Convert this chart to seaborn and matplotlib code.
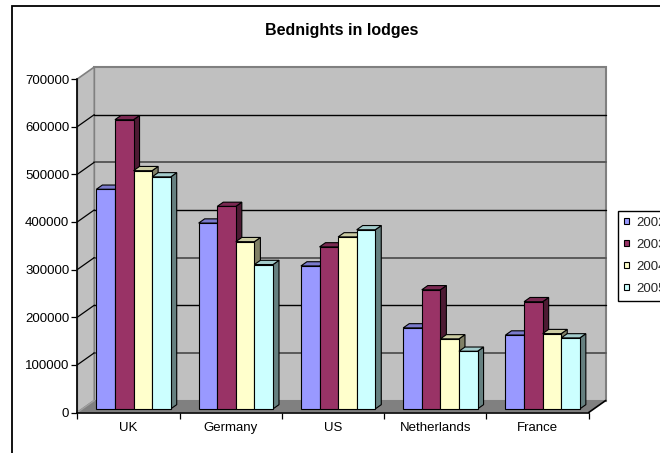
import numpy as np
import pandas as pd
import matplotlib
matplotlib.use("Agg")
import matplotlib.pyplot as plt
import seaborn as sns
from matplotlib.patches import Polygon, Rectangle, Patch
from matplotlib.transforms import Affine2D, IdentityTransform
from matplotlib.lines import Line2D
import matplotlib.colors as mcolors

# ---------------- data ----------------
categories = ["UK", "Germany", "US", "Netherlands", "France"]
years = ["2002", "2003", "2004", "2005"]
v2002 = [461000, 390000, 300000, 170000, 155000]
v2003 = [607000, 425000, 340000, 250000, 225000]
v2004 = [500000, 351000, 361000, 147000, 158000]
v2005 = [487000, 303000, 376000, 121000, 149000]
yticks = [0, 100000, 200000, 300000, 400000, 500000, 600000, 700000]
title = "Bednights in lodges"
colors = ["#9999FF", "#993366", "#FFFFCC", "#CCFFFF"]

series = {"2002": v2002, "2003": v2003, "2004": v2004, "2005": v2005}
df = pd.DataFrame([(c, y, series[y][i]) for y in years for i, c in enumerate(categories)],
                  columns=["country", "year", "value"])

# ---------------- style ----------------
sns.set_style("white")
plt.rcParams["font.family"] = ["Liberation Sans", "DejaVu Sans"]

W, H = 660, 453
fig = plt.figure(figsize=(W / 100, H / 100), dpi=100)
fig.patch.set_facecolor("white")

# front plane of the 3D box
x0, x1 = 77.3, 588.7
yb, yt = 412.5, 79.0
ax = fig.add_axes([x0 / W, (H - yb) / H, (x1 - x0) / W, (yb - yt) / H])
ax.patch.set_visible(False)

sns.barplot(data=df, x="country", y="value", hue="year", order=categories,
            hue_order=years, palette=colors, saturation=1, width=0.727,
            edgecolor="black", linewidth=0.8, legend=False, ax=ax, errorbar=None)
ax.set_xlim(-0.5, len(categories) - 0.5)
ax.set_ylim(yticks[0], yticks[-1])

DX, DY = 17.0, 12.0      # full depth of the box in pixels
D0, DD = 0.30, 0.353     # bar depth start and thickness (fractions)

def P(x, y, d):
    p = ax.transData.transform((x, y))
    return (p[0] + d * DX, p[1] + d * DY)

def poly(pts, fc, ec="none", lw=0.0, z=1.0):
    pg = Polygon(pts, closed=True, facecolor=fc, edgecolor=ec, linewidth=lw,
                 transform=IdentityTransform(), zorder=z, clip_on=False)
    ax.add_artist(pg)
    return pg

def seg(a, b, color, lw, z):
    ln = Line2D([a[0], b[0]], [a[1], b[1]], color=color, linewidth=lw,
                transform=IdentityTransform(), zorder=z, clip_on=False)
    ax.add_artist(ln)

xl, xr = ax.get_xlim()
ytop = yticks[-1]
wall = "#C0C0C0"
wall_edge = "#808080"

# back wall
poly([P(xl, 0, 1), P(xr, 0, 1), P(xr, ytop, 1), P(xl, ytop, 1)], wall, wall_edge, 1.5, 1.0)
# left wall
poly([P(xl, 0, 0), P(xl, 0, 1), P(xl, ytop, 1), P(xl, ytop, 0)], wall, wall_edge, 1.2, 1.0)

# gridlines on walls
for i, v in enumerate(yticks[1:-1], start=1):
    col = "#000000" if i % 2 == 0 else "#5A5A5A"
    lw = 1.0 if i % 2 == 0 else 1.4
    seg(P(xl, v, 1), P(xr, v, 1), col, lw, 1.5)
    seg(P(xl, v, 0), P(xl, v, 1), "#000000", 0.9, 1.5)

# floor
poly([P(xl, 0, 0), P(xr, 0, 0), P(xr, 0, 1), P(xl, 0, 1)], "#808080", "none", 0, 1.6)
seg(P(xl, 0, 0), P(xl, 0, 1), "#A0A0A0", 1.0, 1.7)
seg(P(xr, 0, 0), P(xr, 0, 1), "#000000", 1.2, 1.7)

# 3D bars built from seaborn's bar patches
shift = Affine2D().translate(D0 * DX, D0 * DY)
def darker(c, f):
    r, g, b = mcolors.to_rgb(c)
    return (r * f, g * f, b * f)

for k, cont in enumerate(ax.containers):
    for i, bar in enumerate(cont.patches):
        z = 3 + (i * 4 + k) * 0.01
        bx, bw, bh = bar.get_x(), bar.get_width(), bar.get_height()
        fc = bar.get_facecolor()
        # side face
        poly([P(bx + bw, 0, D0), P(bx + bw, 0, D0 + DD), P(bx + bw, bh, D0 + DD), P(bx + bw, bh, D0)],
             darker(fc, 0.5), "black", 0.8, z)
        # top face
        poly([P(bx, bh, D0), P(bx + bw, bh, D0), P(bx + bw, bh, D0 + DD), P(bx, bh, D0 + DD)],
             darker(fc, 0.8), "black", 0.8, z + 0.002)
        # front face (the seaborn bar itself, pushed back in depth)
        bar.set_transform(ax.transData + shift)
        bar.set_zorder(z + 0.004)
        bar.set_clip_on(False)

# axes
for s in ["top", "right"]:
    ax.spines[s].set_visible(False)
for s in ["left", "bottom"]:
    ax.spines[s].set_color("black")
    ax.spines[s].set_linewidth(1.2)
    ax.spines[s].set_zorder(2)
ax.set_yticks(yticks)
ax.set_yticklabels([str(v) for v in yticks])
ax.tick_params(axis="y", direction="out", length=4.3, width=0.9, pad=1.5,
               labelsize=9.5, color="black", labelcolor="black", left=True)
ax.set_xticks(range(len(categories)))
ax.set_xticklabels(categories)
ax.set_xticks(np.arange(-0.5, len(categories), 1.0), minor=True)
ax.tick_params(axis="x", which="major", length=0, pad=7, labelsize=9.5, labelcolor="black")
ax.tick_params(axis="x", which="minor", direction="out", length=4.0, width=0.9,
               color="black", bottom=True)
ax.set_xlabel("")
ax.set_ylabel("")
ax.grid(False)

# title
fig.text(342 / W, 1 - 30.5 / H, title, ha="center", va="center",
         fontsize=11.5, fontweight="bold", color="black")

# legend
handles = [Patch(facecolor=c, edgecolor="black", linewidth=0.8) for c in colors]
leg = fig.legend(handles, years, loc="upper left",
                 bbox_to_anchor=(617.7 / W, 1 - 210.7 / H), borderaxespad=0,
                 fontsize=9.5, handlelength=0.4, handleheight=0.4,
                 handletextpad=0.55, borderpad=0.45, labelspacing=0.76,
                 frameon=True, fancybox=False, framealpha=1, edgecolor="black")
leg.get_frame().set_linewidth(1.0)

# outer chart border
fig.add_artist(Rectangle((11.7 / W, -0.1), 1.2, 1.1 - 5.7 / H, transform=fig.transFigure,
                         facecolor="none", edgecolor="black", linewidth=1.3))

fig.savefig("out.png", dpi=100)
